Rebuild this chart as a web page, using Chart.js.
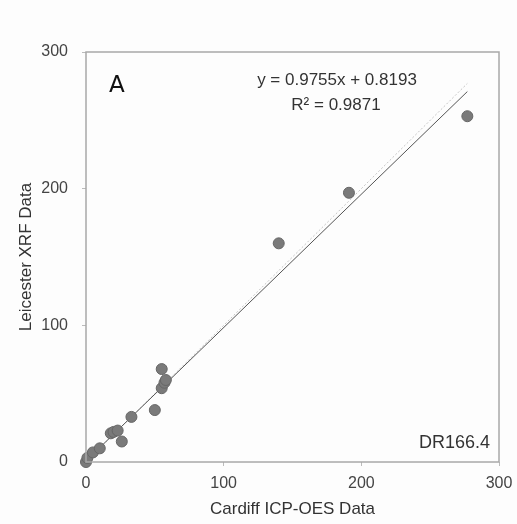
<!DOCTYPE html>
<html>
<head>
<meta charset="utf-8">
<script src="https://cdn.jsdelivr.net/npm/chart.js@4.4.0/dist/chart.umd.min.js"></script>
<style>
html, body { margin: 0; padding: 0; background: #fdfdfd; }
#wrap { width: 517px; height: 524px; }
</style>
</head>
<body>
<div id="wrap"><canvas id="chart" width="517" height="524"></canvas></div>
<script>
// Cardiff ICP-OES (x) vs Leicester XRF (y), sample DR166.4
var cardiff = [0, 1, 5, 10, 18, 20, 23, 26, 33, 50, 55, 55, 57, 58, 140, 191, 277];
var leicester = [0, 3, 7, 10, 21, 22, 23, 15, 33, 38, 68, 54, 58, 60, 160, 197, 253];
var axisTicks = [0, 100, 200, 300];
var slope = 0.9755;
var intercept = 0.8193;
var fitRange = [0, 277];

var points = cardiff.map(function (v, i) { return { x: v, y: leicester[i] }; });
var fitLine = fitRange.map(function (v) { return { x: v, y: slope * v + intercept }; });
var oneToOne = fitRange.map(function (v) { return { x: v, y: v }; });

var labels = {
	id: 'labels',
	afterDatasetsDraw: function (chart) {
		var c = chart.ctx, a = chart.chartArea;
		c.save();
		c.strokeStyle = '#a8a8a8';
		c.lineWidth = 1.5;
		c.strokeRect(a.left, a.top, a.right - a.left, a.bottom - a.top);
		c.fillStyle = '#111';
		c.font = '23px "DejaVu Sans"';
		c.textAlign = 'left';
		c.textBaseline = 'middle';
		c.fillText('A', 109, 86);
		c.fillStyle = '#333';
		c.font = '17px "Liberation Sans"';
		c.textAlign = 'center';
		c.fillText('y = 0.9755x + 0.8193', 337, 80);
		c.fillText('R\u00b2 = 0.9871', 336, 105);
		c.font = '18px "Liberation Sans"';
		c.textAlign = 'right';
		c.fillText('DR166.4', 490, 443);
		c.restore();
	}
};

new Chart(document.getElementById('chart'), {
	type: 'scatter',
	data: {
		datasets: [
			{ data: oneToOne, type: 'line', showLine: true, borderColor: '#c4c4c4', borderWidth: 1, borderDash: [2, 2], pointRadius: 0, order: 3 },
			{ data: fitLine, type: 'line', showLine: true, borderColor: '#555555', borderWidth: 1, pointRadius: 0, order: 2 },
			{ data: points, clip: false, pointRadius: 5.5, pointBackgroundColor: '#7a7a7a', pointBorderColor: '#666666', pointBorderWidth: 1, order: 1 }
		]
	},
	options: {
		responsive: false,
		animation: false,
		layout: { padding: { top: 52, right: 0, left: 0, bottom: 0 } },
		plugins: { legend: { display: false }, tooltip: { enabled: false } },
		scales: {
			x: {
				type: 'linear', min: 0, max: 300,
				afterFit: function (s) { s.height = 62; s.paddingRight = 18; },
				afterBuildTicks: function (s) { s.ticks = axisTicks.map(function (v) { return { value: v }; }); },
				grid: { drawOnChartArea: false, color: '#bbbbbb', tickLength: 4 },
				border: { display: false },
				ticks: { color: '#444', font: { family: 'Liberation Sans', size: 16 }, padding: 8 },
				title: { display: true, text: 'Cardiff ICP-OES Data', color: '#333', font: { family: 'Liberation Sans', size: 17 }, padding: { top: 0 } }
			},
			y: {
				type: 'linear', min: 0, max: 300,
				afterFit: function (s) { s.width = 86; },
				afterBuildTicks: function (s) { s.ticks = axisTicks.map(function (v) { return { value: v }; }); },
				grid: { drawOnChartArea: false, color: '#bbbbbb', tickLength: 4 },
				border: { display: false },
				ticks: { color: '#444', font: { family: 'Liberation Sans', size: 16 }, padding: 14 },
				title: { display: true, text: 'Leicester XRF Data', color: '#333', font: { family: 'Liberation Sans', size: 17 }, padding: { top: 16, bottom: 4 } }
			}
		}
	},
	plugins: [labels]
});
</script>
</body>
</html>
